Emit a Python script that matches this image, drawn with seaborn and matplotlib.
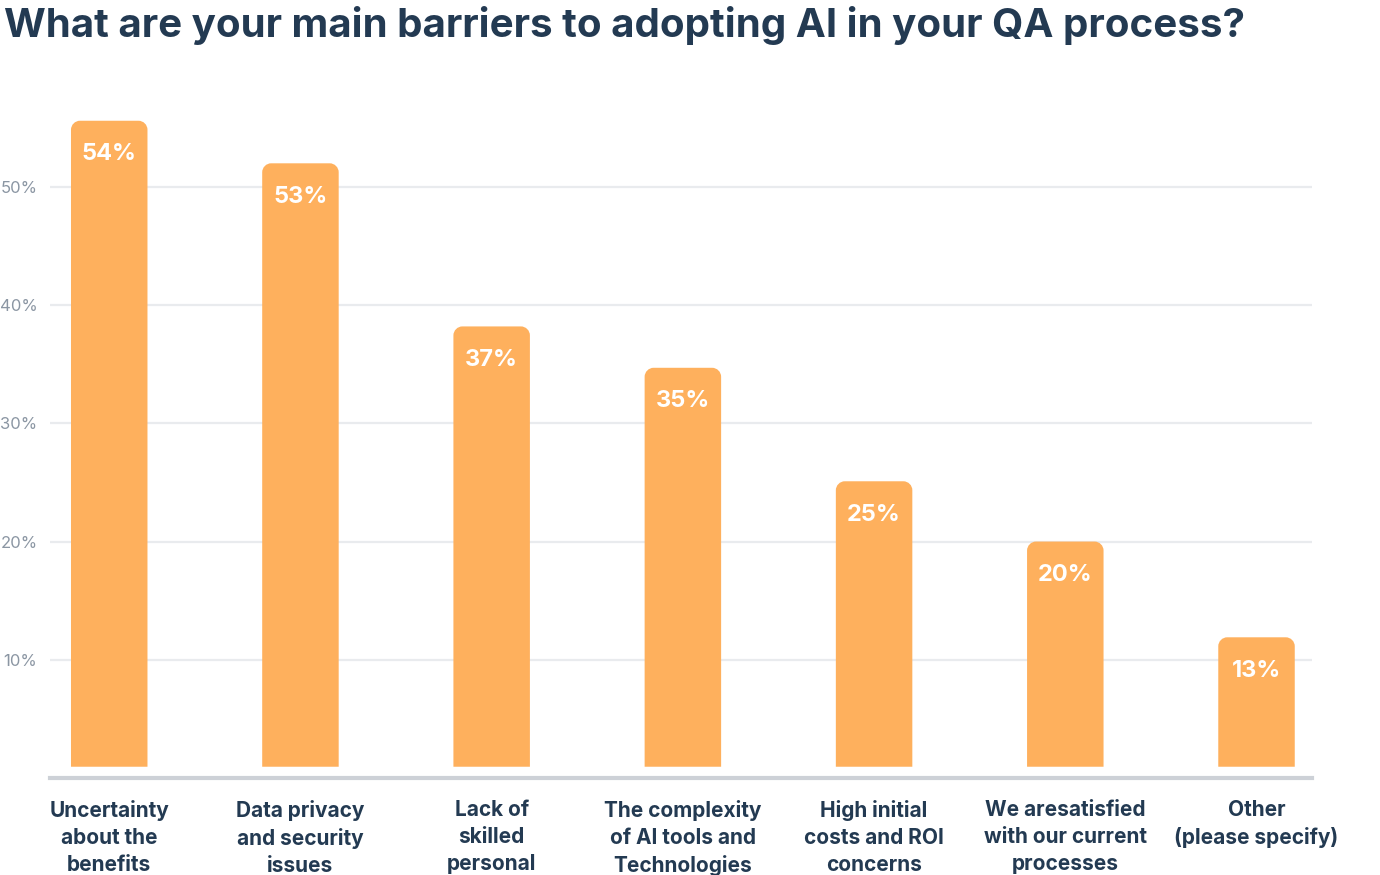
import seaborn as sns
import matplotlib.pyplot as plt
import pandas as pd
from matplotlib.patches import PathPatch
from matplotlib.path import Path

# Data (bar heights, labels as printed)
categories = [
    "Uncertainty\nabout the\nbenefits",
    "Data privacy\nand security\nissues",
    "Lack of\nskilled\npersonal",
    "The complexity\nof AI tools and\nTechnologies",
    "High initial\ncosts and ROI\nconcerns",
    "We aresatisfied\nwith our current\nprocesses",
    "Other\n(please specify)",
]
heights = [55.6, 52.0, 38.2, 34.7, 25.1, 20.0, 11.9]
value_labels = ["54%", "53%", "37%", "35%", "25%", "20%", "13%"]
yticks = [10, 20, 30, 40, 50]

bar_color = "#FEB05D"
navy = "#233A52"
gray_text = "#8B96A3"

sns.set_theme(style="white")
plt.rcParams["font.family"] = ["Inter", "DejaVu Sans"]

df = pd.DataFrame({"cat": categories, "val": heights})

fig = plt.figure(figsize=(13.8, 8.75), dpi=100)
ax = fig.add_axes([0.0362, 0.1109, 0.9145, 0.7565])

sns.barplot(data=df, x="cat", y="val", color=bar_color, width=0.4,
            saturation=1, ax=ax, zorder=3)

ax.set_xlim(-0.31, 6.29)
ax.set_ylim(0, 56)


def top_rounded(x, y0, w, y1, rx, ry):
    k = 0.5523
    verts = [
        (x, y0), (x, y1 - ry),
        (x, y1 - ry + k * ry), (x + rx - k * rx, y1), (x + rx, y1),
        (x + w - rx, y1),
        (x + w - rx + k * rx, y1), (x + w, y1 - ry + k * ry), (x + w, y1 - ry),
        (x + w, y0), (x, y0),
    ]
    codes = [Path.MOVETO, Path.LINETO,
             Path.CURVE4, Path.CURVE4, Path.CURVE4,
             Path.LINETO,
             Path.CURVE4, Path.CURVE4, Path.CURVE4,
             Path.LINETO, Path.CLOSEPOLY]
    return Path(verts, codes)


# rounded top bars, square bottom, lifted slightly off the axis line
base = 0.95
px_x = 6.6 / (0.9145 * 1380)
px_y = 56 / (0.7565 * 875)
r_px = 9
for p, lab in zip(ax.patches, value_labels):
    x, w, h = p.get_x(), p.get_width(), p.get_height()
    p.set_visible(False)
    ax.add_patch(PathPatch(top_rounded(x, base, w, h, r_px * px_x, r_px * px_y),
                           fc=bar_color, ec="none", zorder=3))
    ax.text(x + w / 2, h - 2.85, lab, ha="center", va="center",
            color="white", fontsize=17, fontweight="bold", zorder=4)

ax.set_yticks(yticks)
ax.set_yticklabels([f"{t}%" for t in yticks], color=gray_text, fontsize=12)
ax.yaxis.grid(True, color="#E9EBEE", linewidth=1.6, zorder=0)
ax.tick_params(axis="y", length=0, pad=9)
ax.tick_params(axis="x", length=0, pad=16)
for lab in ax.get_xticklabels():
    lab.set_color(navy)
    lab.set_fontsize(15)
    lab.set_fontweight("bold")
    lab.set_linespacing(1.42)
    lab.set_va("top")

for s in ["top", "right", "left"]:
    ax.spines[s].set_visible(False)
ax.spines["bottom"].set_color("#CDD1D7")
ax.spines["bottom"].set_linewidth(3)
ax.set_xlabel("")
ax.set_ylabel("")

fig.text(0.003, 0.993, "What are your main barriers to adopting AI in your QA process?",
         ha="left", va="top", color=navy, fontsize=29, fontweight="bold")

plt.savefig("out.png", dpi=100)
